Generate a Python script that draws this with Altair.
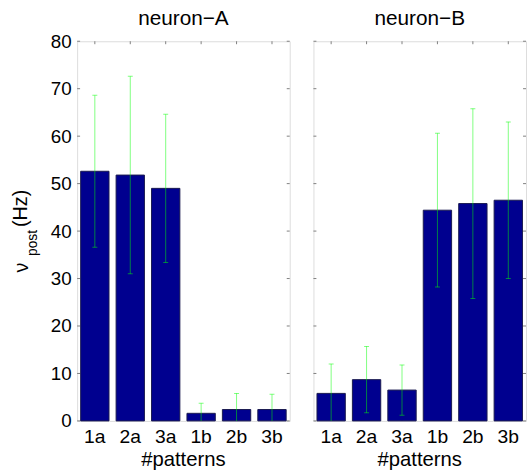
import altair as alt
import pandas as pd

patterns = ["1a", "2a", "3a", "1b", "2b", "3b"]
neuron_a_mean = [52.6, 51.8, 49.0, 1.6, 2.4, 2.4]
neuron_a_err = [16.0, 20.8, 15.6, 2.1, 3.4, 3.2]
neuron_b_mean = [5.8, 8.7, 6.5, 44.4, 45.8, 46.5]
neuron_b_err = [6.2, 7.0, 5.3, 16.2, 20.0, 16.5]
y_ticks = [0, 10, 20, 30, 40, 50, 60, 70, 80]
panel_titles = ["neuron\u2212A", "neuron\u2212B"]
x_title = "#patterns"
y_title_parts = ["\u03bd", "post", "(Hz)"]

W, H = 215, 384
FONT = "Liberation Sans"
BAR = "#00008f"
ERR = "#00ff00"
GRAY = "#808080"


def panel(mean, err, title, show_y):
    df = pd.DataFrame({"pattern": patterns, "mean": mean, "err": err})
    df["lo"] = df["mean"] - df["err"]
    df["hi"] = df["mean"] + df["err"]
    tdf = pd.DataFrame({"v": y_ticks})
    cdf = pd.DataFrame({"pattern": patterns})

    xscale = alt.Scale(domain=patterns, paddingInner=0.2, paddingOuter=0.1)
    x_axis = alt.Axis(title=None, labelAngle=0, labelFontSize=19.5, labelFont=FONT,
                      labelColor="black", ticks=False, domain=False, grid=False, labelPadding=7)
    x = alt.X("pattern:N", sort=patterns, scale=xscale, axis=x_axis)
    yscale = alt.Scale(domain=[0, 80], nice=False, zero=True)
    if show_y:
        y_axis = alt.Axis(values=y_ticks, title=None, ticks=False, domain=False, grid=False,
                          labelFontSize=19, labelPadding=6, labelFont=FONT, labelColor="black")
    else:
        y_axis = None

    def Y(field):
        return alt.Y(field, scale=yscale, axis=y_axis)

    # inward ticks (matlab style box)
    top_ticks = alt.Chart(cdf).mark_rule(color=GRAY, strokeWidth=1).encode(
        x=x, y=alt.value(0), y2=alt.value(3))
    bot_ticks = alt.Chart(cdf).mark_rule(color=GRAY, strokeWidth=1).encode(
        x=x, y=alt.value(H), y2=alt.value(H - 3))
    left_ticks = alt.Chart(tdf).mark_rule(color=GRAY, strokeWidth=1).encode(
        y=Y("v:Q"), x=alt.value(0), x2=alt.value(3))
    right_ticks = alt.Chart(tdf).mark_rule(color=GRAY, strokeWidth=1).encode(
        y=Y("v:Q"), x=alt.value(W), x2=alt.value(W - 3))

    bars = alt.Chart(df).mark_bar(color=BAR, stroke="#1a1a50", strokeWidth=1).encode(
        x=x, y=Y("mean:Q"))
    errs = alt.Chart(df).mark_rule(color=ERR, opacity=0.5, strokeWidth=1, clip=True).encode(
        x=x, y=Y("lo:Q"), y2="hi:Q")
    cap_hi = alt.Chart(df).mark_tick(color=ERR, opacity=0.5, size=5, thickness=1,
                                     orient="horizontal", clip=True).encode(
        x=x, y=Y("hi:Q"))
    cap_lo = alt.Chart(df).mark_tick(color=ERR, opacity=0.5, size=5, thickness=1,
                                     orient="horizontal", clip=True).encode(
        x=x, y=Y("lo:Q"))

    ttl = alt.Chart(pd.DataFrame({"t": [title]})).mark_text(
        font=FONT, fontSize=21, color="black", align="center", baseline="alphabetic").encode(
        x=alt.value(W / 2), y=alt.value(-16), text="t:N")
    xt = alt.Chart(pd.DataFrame({"t": [x_title]})).mark_text(
        font=FONT, fontSize=20.5, color="black", align="center", baseline="alphabetic").encode(
        x=alt.value(W / 2), y=alt.value(H + 46), text="t:N")

    layers = [top_ticks, bot_ticks, left_ticks, right_ticks, bars, errs, cap_hi, cap_lo, ttl, xt]

    if show_y:
        yt1 = alt.Chart(pd.DataFrame({"t": [y_title_parts[0]]})).mark_text(
            font=FONT, fontSize=20, color="black", angle=270, align="center", baseline="middle").encode(
            x=alt.value(-56), y=alt.value(229), text="t:N")
        yt2 = alt.Chart(pd.DataFrame({"t": [y_title_parts[1]]})).mark_text(
            font=FONT, fontSize=14, color="black", angle=270, align="center", baseline="middle").encode(
            x=alt.value(-45), y=alt.value(204), text="t:N")
        yt3 = alt.Chart(pd.DataFrame({"t": [y_title_parts[2]]})).mark_text(
            font=FONT, fontSize=20, color="black", angle=270, align="center", baseline="middle").encode(
            x=alt.value(-57), y=alt.value(169), text="t:N")
        # invisible anchor fixing the page frame around the plot area
        anchor = alt.Chart(cdf.head(1)).mark_rule(strokeOpacity=0, strokeWidth=0.01).encode(
            x=alt.value(-77), x2=alt.value(-77), y=alt.value(-38), y2=alt.value(H + 52))
        layers += [yt1, yt2, yt3, anchor]

    return alt.layer(*layers).properties(width=W, height=H)


left = panel(neuron_a_mean, neuron_a_err, panel_titles[0], True)
right = panel(neuron_b_mean, neuron_b_err, panel_titles[1], False)

chart = alt.hconcat(left, right, spacing=22).properties(
    padding=0,
).configure_view(stroke=GRAY, strokeWidth=1).configure(background="white")

chart.save("out.html", embed_options={"renderer": "svg", "actions": False})
